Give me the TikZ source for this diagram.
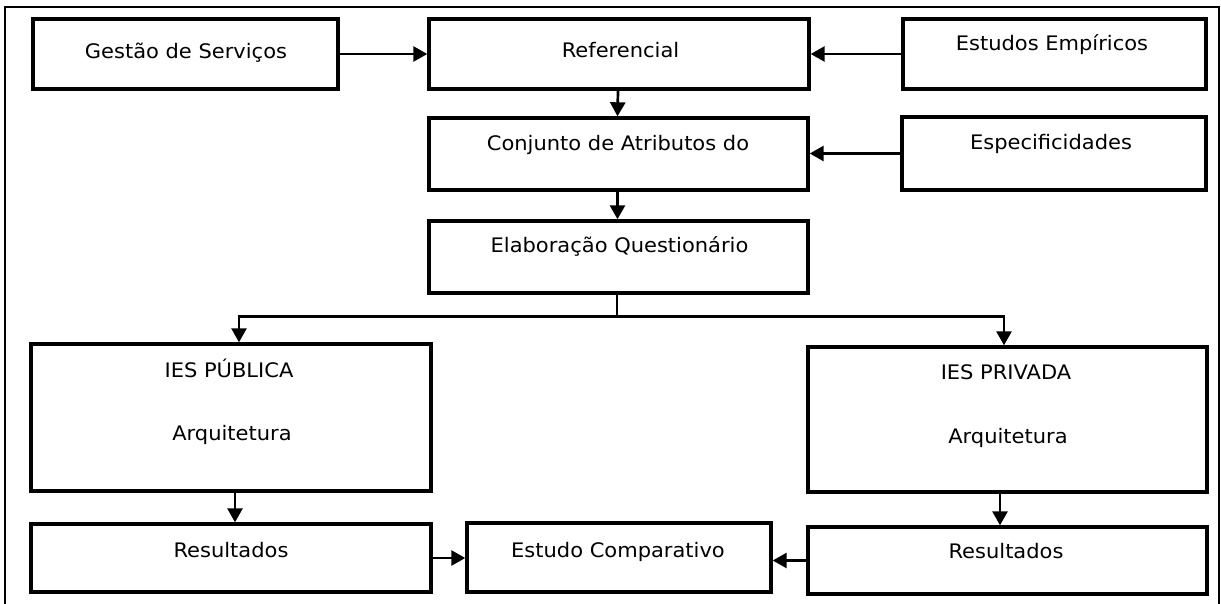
\documentclass[tikz,border=0pt]{standalone}
\usepackage{fontspec}
\setmainfont{DejaVu Sans}[FakeStretch=1.05]
\usetikzlibrary{arrows.meta}
\begin{document}
\begin{tikzpicture}[x=1pt,y=-1pt,
  box/.style={draw, line width=3.4pt, inner sep=0pt, fill=white},
  txt/.style={anchor=base, inner sep=0pt, font=\fontsize{20}{24}\selectfont},
  conn/.style={line width=2.7pt},
  arr/.style={conn, -{Triangle[length=14pt,width=15pt]}}]
\useasboundingbox (0,0) rectangle (1221,604);
\fill[white] (0,0) rectangle (1221,604);
% outer frame
\draw[line width=2.2pt] (5,610) -- (5,7) -- (1219,7) -- (1219,610);
% boxes
\node[box, minimum width=305pt, minimum height=70pt] (G)  at (185.5,54) {};
\node[box, minimum width=380pt, minimum height=70pt] (R)  at (619,54) {};
\node[box, minimum width=303pt, minimum height=70pt] (E)  at (1054.5,54) {};
\node[box, minimum width=379pt, minimum height=72pt] (C)  at (618.5,154) {};
\node[box, minimum width=304pt, minimum height=73pt] (Sp) at (1054,153.5) {};
\node[box, minimum width=379pt, minimum height=72pt] (Q)  at (618.5,257) {};
\node[box, minimum width=400pt, minimum height=147pt] (IP) at (231,417.5) {};
\node[box, minimum width=399pt, minimum height=145pt] (IV) at (1007.5,419.5) {};
\node[box, minimum width=400pt, minimum height=68pt] (R1) at (231,558) {};
\node[box, minimum width=304pt, minimum height=69pt] (EC) at (619,557.5) {};
\node[box, minimum width=399pt, minimum height=67pt] (R2) at (1007.5,560.5) {};
% texts
\node[txt] (tG)  at (186,59)    {Gestão de Serviços};
\node[txt] (tR)  at (620.5,58)  {Referencial};
\node[txt] (tE)  at (1052,51)   {Estudos Empíricos};
\node[txt] (tC)  at (618,151)   {Conjunto de Atributos do};
\node[txt] (tSp) at (1051,150)  {Especificidades};
\node[txt] (tQ)  at (619.5,252) {Elaboração Questionário};
\node[txt] (tIP) at (229,377)   {IES PÚBLICA};
\node[txt] (tA1) at (232,440)   {Arquitetura};
\node[txt] (tIV) at (1006,379)  {IES PRIVADA};
\node[txt] (tA2) at (1008,443)  {Arquitetura};
\node[txt] (tR1) at (231,557)   {Resultados};
\node[txt] (tEC) at (618,557)   {Estudo Comparativo};
\node[txt] (tR2) at (1006,558)  {Resultados};
% connectors
\draw[arr] (G.east) -- (R.west);
\draw[arr] (E.west) -- (E.west -| R.east);
\draw[arr] ([xshift=-1pt]R.south) -- ([xshift=-1pt]C.north);
\draw[arr] (Sp.west) -- (Sp.west -| C.east);
\draw[arr] ([xshift=-1pt]C.south) -- ([xshift=-1pt]Q.north);
\path ([xshift=-1.5pt]Q.south) ++(0,22) coordinate (split);
\draw[conn] ([xshift=-1.5pt]Q.south) -- (split);
\draw[arr] (split) -| ([xshift=8pt]IP.north);
\draw[arr] (split) -| ([xshift=-3.5pt]IV.north);
\draw[arr] ([xshift=4pt]IP.south) -- ([xshift=4pt]R1.north);
\draw[arr] ([xshift=-7.5pt]IV.south) -- ([xshift=-7.5pt]R2.north);
\draw[arr] (R1.east) -- (R1.east -| EC.west);
\draw[arr] (R2.west) -- (R2.west -| EC.east);
\end{tikzpicture}
\end{document}
